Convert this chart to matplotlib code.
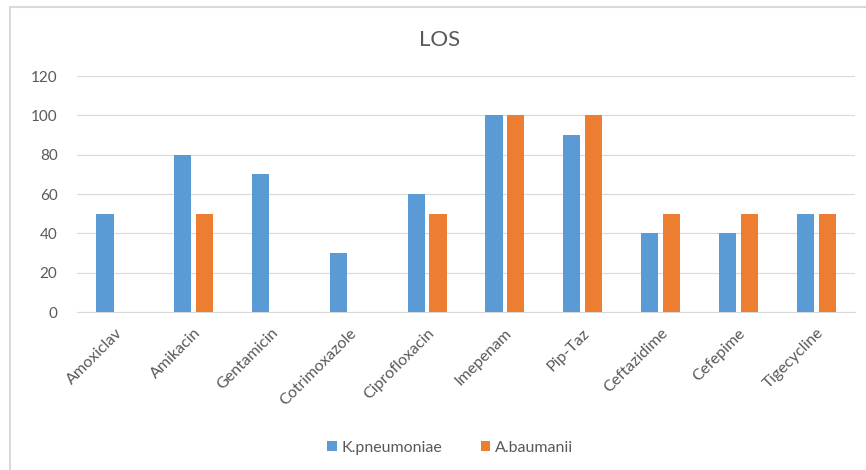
import numpy as np
import matplotlib
matplotlib.use("Agg")
import matplotlib.pyplot as plt
from matplotlib.patches import Rectangle

# chart data
drugs = ["Amoxiclav", "Amikacin", "Gentamicin", "Cotrimoxazole", "Ciprofloxacin",
         "Imepenam", "Pip-Taz", "Ceftazidime", "Cefepime", "Tigecycline"]
k_pneumoniae = [50, 80, 70, 30, 60, 100, 90, 40, 40, 50]
a_baumanii = [0, 50, 0, 0, 50, 100, 100, 50, 50, 50]
y_ticks = [0, 20, 40, 60, 80, 100, 120]

plt.rcParams['font.family'] = ['Lato', 'DejaVu Sans']
text_col = "#595959"

fig = plt.figure(figsize=(8.66, 4.7), dpi=100)
ax = fig.add_axes([0.0889, 0.336, 0.8985, 0.502])

x = np.arange(len(drugs))
w = 0.22
gap = 0.03
ax.bar(x - w / 2 - gap, k_pneumoniae, width=w, color="#5B9BD5", label="K.pneumoniae", zorder=3)
ax.bar(x + w / 2 + gap, a_baumanii, width=w, color="#ED7D31", label="A.baumanii", zorder=3)

ax.set_xlim(-0.5, len(drugs) - 0.5)
ax.set_ylim(0, 120)
ax.set_yticks(y_ticks)
ax.set_xticks(x)
ax.set_xticklabels(drugs, rotation=45, ha="right", rotation_mode="anchor", fontsize=11.5, color=text_col)
ax.tick_params(axis="y", labelsize=11, labelcolor=text_col, length=0, pad=14)
ax.tick_params(axis="x", length=0, pad=10)
ax.grid(axis="y", color="#D9D9D9", linewidth=0.8, zorder=0)
for s in ["top", "right", "left"]:
    ax.spines[s].set_visible(False)
ax.spines["bottom"].set_color("#D9D9D9")

fig.text(0.508, 0.915, "LOS", ha="center", va="center", fontsize=16, color=text_col)

fig.legend(loc="center", bbox_to_anchor=(0.52, 0.047), ncol=2, frameon=False,
           fontsize=11.5, labelcolor=text_col, handlelength=0.6, handleheight=0.6,
           handletextpad=0.3, columnspacing=2.4)

# chart border (right edge falls outside the picture)
fig.patches.append(Rectangle((0.012, -0.02), 1.1, 1.005, transform=fig.transFigure,
                             fill=False, edgecolor="#D9D9D9", linewidth=1.5))

fig.savefig("out.png", dpi=100)
